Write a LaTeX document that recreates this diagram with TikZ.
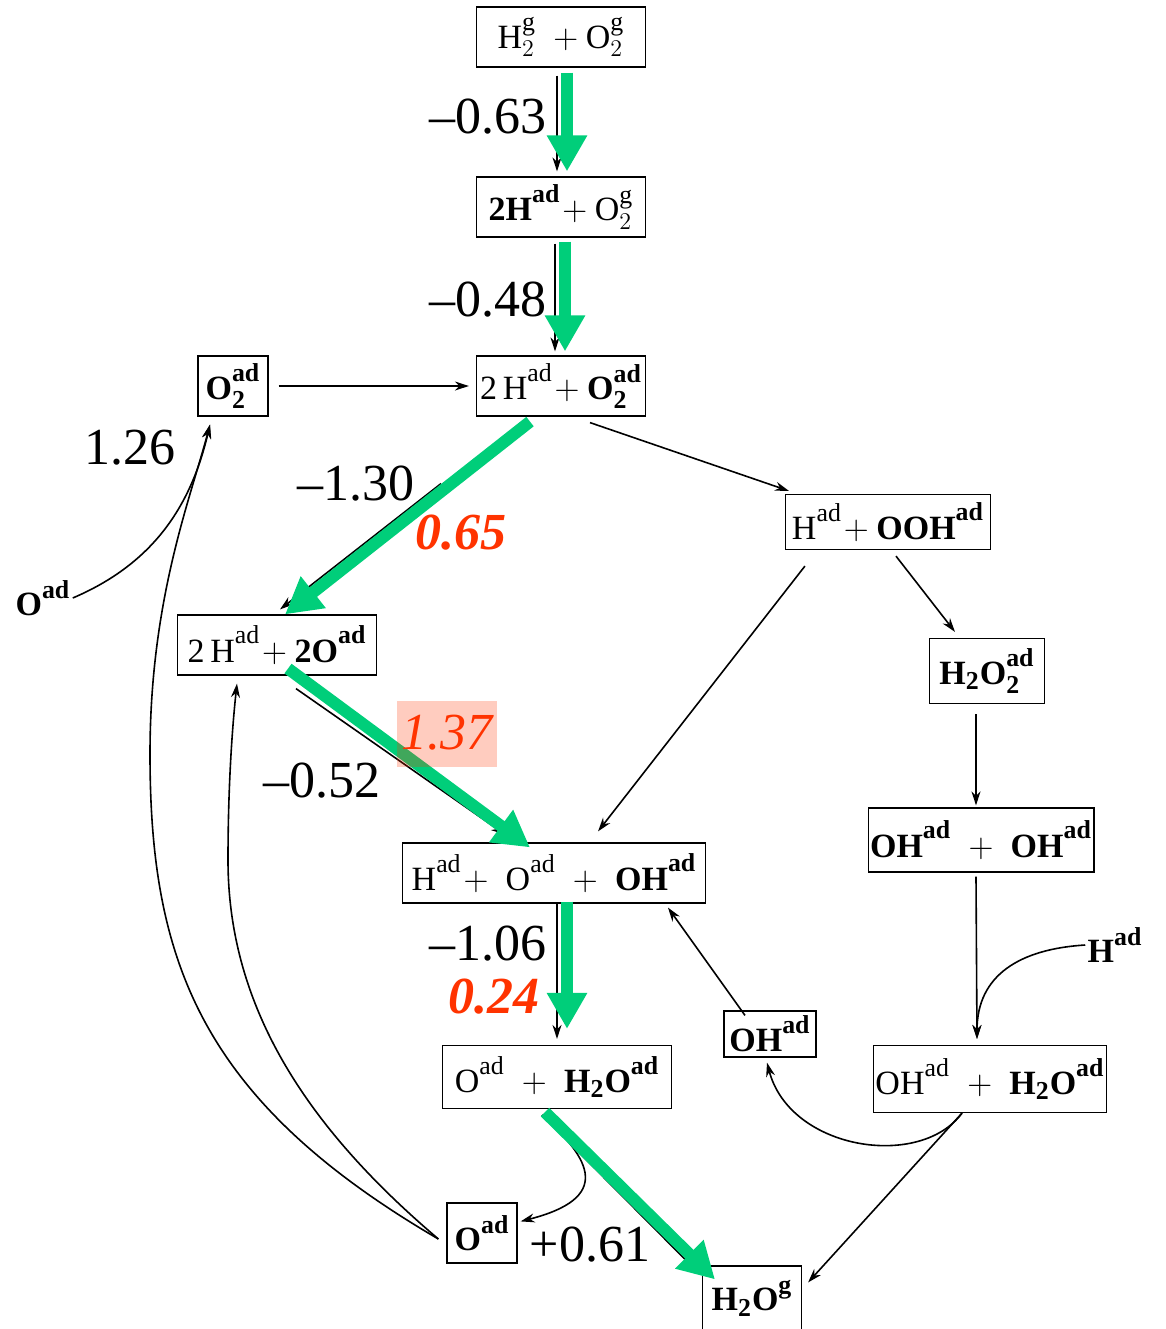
\documentclass[tikz,border=0pt]{standalone}
\usepackage{fontspec}
\setmainfont{Liberation Serif}
\usepackage{tikz}
\usetikzlibrary{arrows.meta}
\definecolor{pathgreen}{RGB}{0,206,122}
\definecolor{barrier}{RGB}{255,51,0}

\renewcommand{\defaultscriptratio}{0.76}
\newcommand{\adn}{^{\raisebox{2.5pt}{$\scriptstyle\mathrm{ad}$}}}
\newcommand{\adb}{^{\raisebox{2.5pt}{$\scriptstyle\mathbf{ad}$}}}
\newcommand{\gsn}{^{\raisebox{2.5pt}{$\scriptstyle\mathrm{g}$}}}
\newcommand{\gsb}{^{\raisebox{2.5pt}{$\scriptstyle\mathbf{g}$}}}

\begin{document}
\begin{tikzpicture}[
  x=0.5pt, y=-0.5pt,
  species/.style={draw, line width=0.6pt, fill=white, inner sep=1pt,
    minimum height=30pt, font=\fontsize{17}{20}\selectfont},
  free/.style={inner sep=1pt, font=\fontsize{17}{20}\selectfont},
  energy/.style={inner sep=1pt, font=\fontsize{26}{30}\selectfont},
  barrierlbl/.style={inner sep=1pt, text=barrier,
    font=\fontsize{26}{30}\selectfont\bfseries\itshape},
  barrierthin/.style={barrierlbl, font=\fontsize{26}{30}\selectfont\itshape},
  arrow/.style={-{Stealth[length=7pt,width=4.5pt]}, line width=0.8pt},
  route/.style={-{Triangle[length=18pt,width=19pt]}, line width=6pt, draw=pathgreen}
]
  \useasboundingbox (0,0) rectangle (1166,1329);

  % species (centre column)
  \node[species, minimum width=84.5pt] (gas)    at (561,37)  {$\mathrm{H}_2\gsn\;+\mathrm{O}_2\gsn$};
  \node[species, minimum width=84.5pt] (hads)   at (561,207) {$\mathbf{2H}\adb\!+\mathrm{O}_2\gsn$};
  \node[species, minimum width=84.5pt] (otwo)   at (561,386) {$\mathrm{2\,H}\adn\!+\mathbf{O}_{\mathbf{2}}\adb$};
  \node[species, minimum width=35pt]   (otwoad) at (233,386) {$\mathbf{O}_{\mathbf{2}}\adb$};
  \node[species, minimum width=102.5pt, minimum height=27.5pt] (ooh) at (888,522) {$\mathrm{H}\adn\!+\mathbf{OOH}\adb$};
  \node[species, minimum width=99.5pt] (twoo)   at (277,645) {$\mathrm{2\,H}\adn\!+\mathbf{2O}\adb$};
  \node[species, minimum width=57.5pt, minimum height=32.5pt] (peroxide) at (987,671) {$\mathbf{H}_{\mathbf{2}}\mathbf{O}_{\mathbf{2}}\adb$};
  \node[species, minimum width=151.5pt] (mixed) at (554,873) {$\mathrm{H}\adn\!+\;\mathrm{O}\adn\;+\;\mathbf{OH}\adb$};
  \node[species, minimum width=107.5pt, minimum height=32pt] (ohpair) at (981,840) {$\mathbf{OH}\adb\;+\;\mathbf{OH}\adb$};
  \node[species, minimum width=46pt, minimum height=23pt] (ohfree) at (770,1034) {$\mathbf{OH}\adb$};
  \node[species, minimum width=114.5pt, minimum height=31.5pt] (owater) at (557,1077) {$\mathrm{O}\adn\;+\;\mathbf{H}_{\mathbf{2}}\mathbf{O}\adb$};
  \node[species, minimum width=116pt, minimum height=33.5pt] (ohwater) at (990,1079) {$\mathrm{OH}\adn\;+\;\mathbf{H}_{\mathbf{2}}\mathbf{O}\adb$};
  \node[species, minimum width=35pt]   (ofree)  at (482,1233) {$\mathbf{O}\adb$};
  \node[species, minimum width=49.5pt, minimum height=32pt] (water) at (752,1298) {$\mathbf{H}_{\mathbf{2}}\mathbf{O}\gsb$};
  \node[free] (oleft)  at (43,598)   {$\mathbf{O}\adb$};
  \node[free] (hright) at (1115,945) {$\mathbf{H}\adb$};

  % thin steps
  \draw[arrow] ([xshift=-2pt,yshift=-4pt]gas.south) -- ([xshift=-2pt,yshift=2.5pt]hads.north);
  \draw[arrow] ([xshift=-3pt,yshift=-3pt]hads.south) -- ([xshift=-3pt,yshift=2pt]otwo.north);
  \draw[arrow] ([xshift=5pt]otwoad.east) -- ([xshift=-3.5pt]otwo.west);
  \draw[arrow] ([xshift=14.5pt,yshift=-3pt]otwo.south) -- ([xshift=2pt,yshift=1.5pt]ooh.north west);
  \draw[arrow] ([xshift=-60pt,yshift=-33.5pt]otwo.south) -- ([xshift=1.5pt,yshift=2.5pt]twoo.north);
  \draw[arrow] ([xshift=9.5pt,yshift=-6.5pt]twoo.south) -- ([xshift=-24.5pt,yshift=4pt]mixed.north);
  \draw[arrow] ([xshift=10pt,yshift=-8pt]ooh.south west) -- ([xshift=22pt,yshift=5.5pt]mixed.north);
  \draw[arrow] ([xshift=4pt,yshift=-3pt]ooh.south) -- ([xshift=-16pt,yshift=3pt]peroxide.north);
  \draw[arrow] ([xshift=-5.5pt,yshift=-5pt]peroxide.south) -- ([xshift=-2.5pt,yshift=1pt]ohpair.north);
  \draw[arrow] ([xshift=-2.5pt,yshift=-2pt]ohpair.south) -- ([xshift=-6.5pt,yshift=3pt]ohwater.north);
  \draw[arrow] (hright.west) .. controls (1020,949) and (977,975) .. ([xshift=-6.5pt,yshift=3pt]ohwater.north);
  \draw[arrow] ([xshift=1.5pt]mixed.south) -- ([yshift=3pt]owater.north);
  \draw[arrow] ([xshift=-12.5pt,yshift=-2.5pt]ohfree.north) -- ([xshift=57pt,yshift=-2pt]mixed.south);
  \draw[arrow] ([xshift=-14pt]ohwater.south) .. controls (920,1170) and (790,1150) .. ([xshift=-1.5pt,yshift=-2.5pt]ohfree.south);
  \draw[arrow] ([xshift=-14pt]ohwater.south) -- ([xshift=3pt,yshift=-8.5pt]water.north east);
  \draw[arrow] ([xshift=-7.5pt,yshift=-3pt]owater.south) -- ([xshift=-26pt,yshift=-4.5pt]water.north);
  \draw[arrow] ([xshift=-7.5pt,yshift=-3pt]owater.south) .. controls (592,1160) and (612,1198) .. ([xshift=1.5pt,yshift=-9.5pt]ofree.north east);

  % loops back from the free O
  \draw[arrow] ([xshift=-4pt,yshift=-3pt]ofree.west) .. controls (200,1100) and (150,960) .. (150,754)
    .. controls (150,600) and (190,500) .. ([xshift=-11.5pt,yshift=-4pt]otwoad.south);
  \draw[arrow] ([xshift=-4pt,yshift=-3pt]ofree.west) .. controls (310,1130) and (228,1010) .. (228,860)
    .. controls (228,780) and (233,720) .. ([xshift=-20pt,yshift=-4pt]twoo.south);
  \draw[arrow] (oleft.east) .. controls (150,565) and (190,510) .. ([xshift=-11.5pt,yshift=-4pt]otwoad.south);

  % preferred route
  \draw[route] ([xshift=3pt,yshift=-2.5pt]gas.south) -- ([xshift=3pt,yshift=2.5pt]hads.north);
  \draw[route] ([xshift=2pt,yshift=-2pt]hads.south) -- ([xshift=2pt,yshift=2pt]otwo.north);
  \draw[route] ([xshift=-15.5pt,yshift=-2.5pt]otwo.south) -- ([xshift=4pt]twoo.north);
  \draw[route] ([xshift=5.5pt,yshift=3.5pt]twoo.south) -- ([xshift=-12pt,yshift=-2.5pt]mixed.north);
  \draw[route] ([xshift=6.5pt,yshift=1pt]mixed.south) -- ([xshift=5pt,yshift=8pt]owater.north);
  \draw[route] ([xshift=-6pt,yshift=-1.5pt]owater.south) -- ([xshift=-18.5pt,yshift=-7pt]water.north);

  % energies and barriers
  \node[fill=barrier, fill opacity=0.25, minimum width=50pt, minimum height=33pt, inner sep=0pt] (hilite) at (447,734) {};
  \node[energy] (e1) at (488,117)  {--0.63};
  \node[energy] (e2) at (488,300)  {--0.48};
  \node[energy] (e3) at (130,448)  {1.26};
  \node[energy] (e4) at (356,484)  {--1.30};
  \node[energy] (e5) at (322,781)  {--0.52};
  \node[energy] (e6) at (488,944)  {--1.06};
  \node[energy] (e7) at (590,1245) {+0.61};
  \node[barrierlbl]  (b1) at (461,533) {0.65};
  \node[barrierthin] (b2) at (447,733) {1.37};
  \node[barrierlbl]  (b3) at (494,997) {0.24};
\end{tikzpicture}
\end{document}
